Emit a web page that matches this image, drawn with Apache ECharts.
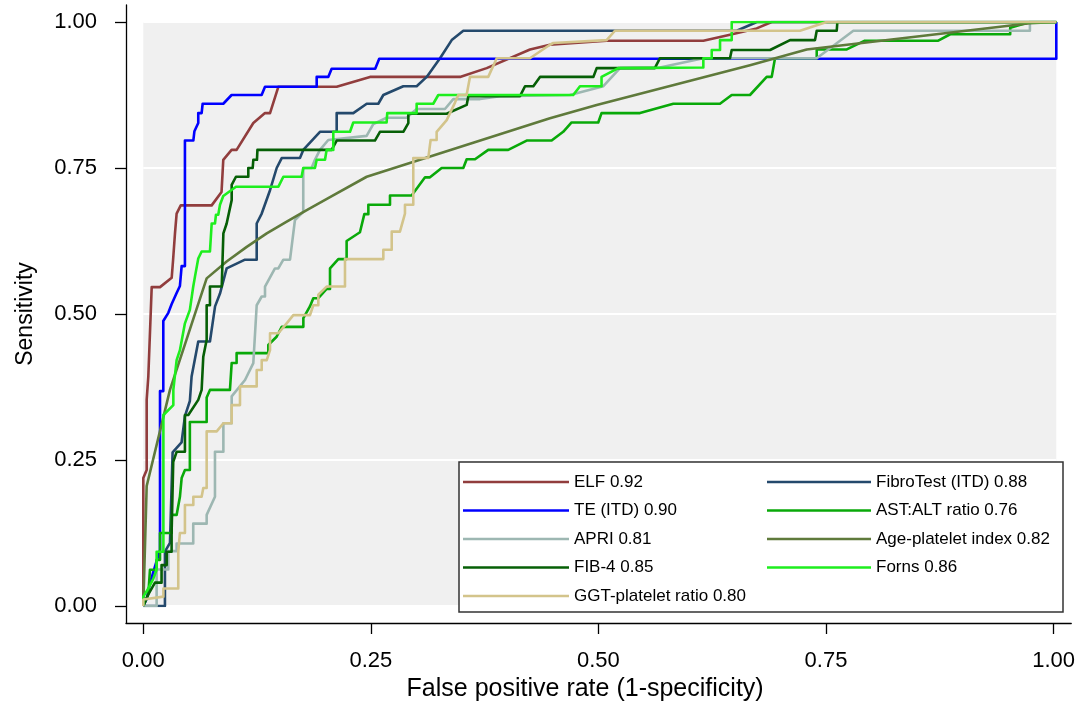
<!DOCTYPE html>
<html>
<head>
<meta charset="utf-8">
<title>ROC curves</title>
<script src="https://cdn.jsdelivr.net/npm/echarts@6/dist/echarts.min.js"></script>
<style>
  html, body { margin: 0; padding: 0; background: #ffffff; }
  #chart { width: 1078px; height: 707px; }
</style>
</head>
<body>
<div id="chart"></div>
<script>
// ROC curves: [false positive rate, sensitivity]
const elf = [[0,0],[0,0.219],[0.0037,0.233],[0.0037,0.353],[0.0055,0.393],[0.0092,0.546],[0.0183,0.546],[0.0311,0.562],[0.0326,0.592],[0.0347,0.638],[0.0365,0.672],[0.041,0.686],[0.0749,0.686],[0.0857,0.709],[0.0876,0.764],[0.0967,0.781],[0.1022,0.781],[0.1205,0.827],[0.1333,0.844],[0.1388,0.844],[0.1479,0.889],[0.2118,0.889],[0.2483,0.906],[0.3469,0.906],[0.3761,0.921],[0.4236,0.953],[0.4454,0.961],[0.5076,0.968],[0.6134,0.968],[0.6426,0.978],[0.6718,0.989],[0.6883,1],[1,1]];

const fibroTest = [[0,0],[0.0237,0],[0.0237,0.093],[0.0292,0.108],[0.0321,0.263],[0.0419,0.280],[0.0456,0.325],[0.051,0.351],[0.0529,0.393],[0.0602,0.453],[0.073,0.453],[0.0786,0.513],[0.084,0.535],[0.0913,0.578],[0.1114,0.593],[0.1242,0.593],[0.1242,0.655],[0.1297,0.672],[0.1388,0.712],[0.1461,0.750],[0.1516,0.767],[0.1716,0.767],[0.1752,0.781],[0.1935,0.812],[0.2118,0.812],[0.2118,0.844],[0.23,0.844],[0.2447,0.860],[0.2574,0.860],[0.2629,0.875],[0.2848,0.890],[0.2994,0.890],[0.3104,0.906],[0.325,0.938],[0.3378,0.969],[0.3505,0.985],[0.65,0.985],[0.672,1],[1,1]];

const te = [[0,0],[0.0037,0.012],[0.0073,0.039],[0.0183,0.096],[0.0183,0.368],[0.0219,0.368],[0.0219,0.488],[0.0274,0.502],[0.0311,0.517],[0.0365,0.536],[0.0401,0.548],[0.042,0.582],[0.0456,0.582],[0.0456,0.797],[0.0548,0.797],[0.056,0.813],[0.0602,0.827],[0.0602,0.844],[0.0639,0.844],[0.065,0.860],[0.0876,0.860],[0.0967,0.875],[0.1296,0.875],[0.1333,0.889],[0.1899,0.889],[0.1899,0.906],[0.2026,0.906],[0.2063,0.920],[0.254,0.920],[0.2584,0.937],[1,0.937],[1,1]];

const astAlt = [[0,0],[0.0055,0.02],[0.0073,0.062],[0.0146,0.062],[0.0146,0.079],[0.0183,0.079],[0.0183,0.125],[0.0311,0.125],[0.0311,0.156],[0.0365,0.156],[0.0401,0.187],[0.042,0.219],[0.0456,0.233],[0.051,0.233],[0.051,0.315],[0.0694,0.315],[0.0694,0.357],[0.073,0.370],[0.0949,0.370],[0.0968,0.416],[0.1022,0.416],[0.1022,0.433],[0.1369,0.433],[0.1369,0.447],[0.146,0.461],[0.1516,0.478],[0.1753,0.478],[0.1753,0.493],[0.1825,0.513],[0.1862,0.527],[0.1917,0.527],[0.2008,0.543],[0.2045,0.543],[0.2045,0.578],[0.2136,0.594],[0.2227,0.594],[0.2227,0.625],[0.2373,0.640],[0.2421,0.671],[0.2465,0.671],[0.2465,0.687],[0.2702,0.687],[0.2702,0.703],[0.2939,0.703],[0.3086,0.734],[0.314,0.734],[0.3268,0.750],[0.3505,0.750],[0.3542,0.765],[0.3633,0.765],[0.3778,0.781],[0.3997,0.781],[0.4199,0.797],[0.4472,0.797],[0.4599,0.812],[0.4691,0.828],[0.4983,0.828],[0.5019,0.844],[0.544,0.844],[0.5805,0.860],[0.6316,0.860],[0.6445,0.875],[0.6645,0.875],[0.6828,0.906],[0.6883,0.906],[0.6919,0.938],[0.7376,0.938],[0.7376,0.953],[0.7705,0.953],[0.7903,0.968],[0.8707,0.968],[0.8838,0.979],[0.9495,0.979],[0.9495,0.990],[0.9711,1],[1,1]];

const apri = [[0,0],[0.0146,0],[0.0146,0.0625],[0.0274,0.0625],[0.0274,0.094],[0.0365,0.094],[0.0365,0.107],[0.0547,0.107],[0.0547,0.141],[0.0694,0.141],[0.0694,0.156],[0.0785,0.187],[0.0785,0.264],[0.0877,0.264],[0.0877,0.313],[0.0968,0.313],[0.0968,0.359],[0.1114,0.387],[0.1205,0.416],[0.1242,0.515],[0.1297,0.530],[0.1333,0.530],[0.1333,0.547],[0.1442,0.578],[0.1479,0.578],[0.1534,0.593],[0.1607,0.593],[0.1661,0.661],[0.1752,0.675],[0.1752,0.750],[0.1843,0.750],[0.188,0.764],[0.1935,0.781],[0.2026,0.798],[0.2446,0.805],[0.2519,0.825],[0.2665,0.836],[0.2884,0.836],[0.2994,0.851],[0.3304,0.851],[0.3395,0.868],[0.3688,0.868],[0.3907,0.873],[0.4673,0.875],[0.5039,0.890],[0.5221,0.921],[0.5659,0.922],[0.6134,0.938],[0.7376,0.938],[0.7777,0.985],[0.9711,0.985],[0.9711,1],[1,1]];

const agePlatelet = [[0,0],[0.0037,0.2055],[0.0292,0.370],[0.0694,0.561],[0.0913,0.590],[0.1133,0.615],[0.1352,0.638],[0.1571,0.658],[0.179,0.678],[0.2045,0.700],[0.2447,0.735],[0.4454,0.835],[0.4966,0.858],[0.6645,0.926],[0.7266,0.953],[0.9711,0.998],[1,1]];

const fib4 = [[0,0],[0.0055,0.02],[0.0128,0.04],[0.02,0.04],[0.02,0.07],[0.0256,0.07],[0.0256,0.093],[0.031,0.093],[0.031,0.125],[0.0328,0.125],[0.0328,0.247],[0.0365,0.264],[0.0456,0.264],[0.0456,0.327],[0.0493,0.327],[0.0602,0.353],[0.0639,0.370],[0.0657,0.427],[0.0694,0.456],[0.0694,0.515],[0.073,0.515],[0.073,0.547],[0.0859,0.547],[0.0877,0.638],[0.0913,0.655],[0.0931,0.655],[0.0968,0.695],[0.0968,0.721],[0.1015,0.735],[0.115,0.735],[0.115,0.750],[0.1198,0.750],[0.1205,0.764],[0.1245,0.764],[0.125,0.781],[0.2063,0.781],[0.2118,0.797],[0.2537,0.797],[0.2592,0.812],[0.2848,0.812],[0.2903,0.827],[0.2903,0.843],[0.3322,0.843],[0.3542,0.858],[0.356,0.873],[0.4126,0.873],[0.4181,0.890],[0.4272,0.890],[0.4345,0.906],[0.493,0.906],[0.4966,0.921],[0.5603,0.921],[0.5659,0.938],[0.6426,0.938],[0.6445,0.952],[0.6865,0.952],[0.7084,0.969],[0.7357,0.969],[0.7376,0.985],[0.7595,0.985],[0.7602,1],[1,1]];

const forns = [[0,0],[0,0.016],[0.0055,0.030],[0.011,0.047],[0.0146,0.062],[0.0146,0.093],[0.022,0.093],[0.022,0.327],[0.0329,0.344],[0.0329,0.370],[0.0365,0.421],[0.0401,0.438],[0.0456,0.484],[0.051,0.507],[0.0547,0.547],[0.0566,0.564],[0.0602,0.595],[0.0639,0.607],[0.073,0.607],[0.0749,0.655],[0.0785,0.655],[0.0796,0.670],[0.0821,0.670],[0.084,0.687],[0.0876,0.702],[0.1015,0.718],[0.148,0.718],[0.1534,0.735],[0.1734,0.735],[0.1752,0.750],[0.188,0.750],[0.1899,0.764],[0.199,0.764],[0.2008,0.781],[0.2081,0.781],[0.2081,0.812],[0.2264,0.812],[0.23,0.828],[0.2665,0.828],[0.2672,0.844],[0.2994,0.844],[0.2994,0.860],[0.3176,0.860],[0.3231,0.875],[0.4709,0.875],[0.4783,0.890],[0.5019,0.890],[0.5019,0.906],[0.5203,0.921],[0.6134,0.922],[0.6134,0.938],[0.6226,0.938],[0.6226,0.952],[0.6317,0.952],[0.6317,0.969],[0.6445,0.969],[0.6445,1],[1,1]];

const ggt = [[0,0],[0,0.011],[0.022,0.016],[0.022,0.030],[0.0383,0.030],[0.0383,0.093],[0.0401,0.125],[0.0456,0.125],[0.0456,0.173],[0.0548,0.173],[0.0548,0.187],[0.0639,0.187],[0.0657,0.202],[0.0694,0.202],[0.0694,0.299],[0.0804,0.299],[0.0877,0.313],[0.0968,0.313],[0.0968,0.344],[0.1059,0.344],[0.1059,0.376],[0.1242,0.376],[0.1242,0.404],[0.1297,0.404],[0.1297,0.421],[0.1352,0.421],[0.1388,0.438],[0.1388,0.467],[0.1479,0.467],[0.157,0.484],[0.1643,0.498],[0.1826,0.498],[0.1862,0.515],[0.1917,0.515],[0.1917,0.533],[0.2008,0.547],[0.2209,0.547],[0.2209,0.594],[0.2629,0.594],[0.2629,0.610],[0.2721,0.610],[0.2721,0.641],[0.2811,0.641],[0.2866,0.672],[0.2866,0.687],[0.2957,0.687],[0.2957,0.767],[0.3121,0.767],[0.3147,0.798],[0.3213,0.798],[0.3213,0.812],[0.3323,0.832],[0.3414,0.862],[0.345,0.875],[0.3541,0.875],[0.3578,0.906],[0.3778,0.906],[0.3871,0.938],[0.4235,0.938],[0.4454,0.961],[0.4491,0.964],[0.5075,0.969],[0.5166,0.985],[0.7193,0.985],[0.7485,1],[1,1]];

// Legend labels with AUC
const names = {
  elf: 'ELF 0.92',
  fibroTest: 'FibroTest (ITD) 0.88',
  te: 'TE (ITD) 0.90',
  astAlt: 'AST:ALT ratio 0.76',
  apri: 'APRI 0.81',
  agePlatelet: 'Age-platelet index 0.82',
  fib4: 'FIB-4 0.85',
  forns: 'Forns 0.86',
  ggt: 'GGT-platelet ratio 0.80'
};

const tickValues = [0, 0.25, 0.5, 0.75, 1];

const colors = {
  elf: '#913d3d',
  fibroTest: '#24496c',
  te: '#0000ff',
  astAlt: '#09a909',
  apri: '#9db7b2',
  agePlatelet: '#5f7a3b',
  fib4: '#065f06',
  forns: '#1eee1e',
  ggt: '#d3c48b'
};

// drawing order: later curves lie on top
const order = [
  ['elf', elf], ['fibroTest', fibroTest], ['te', te], ['astAlt', astAlt],
  ['apri', apri], ['agePlatelet', agePlatelet], ['fib4', fib4], ['forns', forns], ['ggt', ggt]
];

const FONT = "'Liberation Sans', Arial, Helvetica, sans-serif";

// plot region (data 0..1) and the outer frame carrying the axes
const plot = { left: 143.3, right: 1056.3, top: 22, bottom: 606 };
const frame = { left: 126, right: 1074, top: 5, bottom: 623 };
const pxPerX = plot.right - plot.left, pxPerY = plot.bottom - plot.top;
const fxMin = (frame.left - plot.left) / pxPerX;
const fxMax = (frame.right - plot.left) / pxPerX;
const fyMin = (plot.bottom - frame.bottom) / pxPerY;
const fyMax = (plot.bottom - frame.top) / pxPerY;

const chart = echarts.init(document.getElementById('chart'), null, { renderer: 'canvas' });

const series = order.map(([key, data]) => ({
  name: names[key],
  type: 'line',
  xAxisIndex: 0,
  yAxisIndex: 0,
  data: data,
  symbol: 'none',
  showSymbol: false,
  smooth: false,
  lineStyle: { color: colors[key], width: 2.6, join: 'round' },
  itemStyle: { color: colors[key] },
  emphasis: { disabled: true },
  z: 2
}));

const legendCommon = {
  orient: 'vertical',
  top: 473,
  padding: 0,
  itemGap: 10.5,
  itemHeight: 2.5,
  icon: 'rect',
  selectedMode: false,
  textStyle: { fontFamily: FONT, fontSize: 17, color: '#000', lineHeight: 18 },
  z: 10
};

chart.setOption({
  animation: false,
  backgroundColor: '#ffffff',
  grid: [
    {
      left: plot.left, top: plot.top, width: pxPerX, height: pxPerY,
      show: true, backgroundColor: '#f0f0f0', borderWidth: 0
    },
    {
      left: frame.left, top: frame.top,
      width: frame.right - frame.left, height: frame.bottom - frame.top,
      show: false
    }
  ],
  xAxis: [
    {
      type: 'value', gridIndex: 0, min: 0, max: 1, interval: 0.25,
      axisLine: { show: false }, axisTick: { show: false }, axisLabel: { show: false },
      splitLine: { show: false }
    },
    {
      type: 'value', gridIndex: 1, min: fxMin, max: fxMax,
      axisLine: { show: true, onZero: false, lineStyle: { color: '#000', width: 1.3 } },
      axisTick: { show: true, length: 11, customValues: tickValues, lineStyle: { color: '#000', width: 1.3 } },
      axisLabel: {
        show: true, customValues: tickValues, margin: 27,
        formatter: v => v.toFixed(2),
        fontFamily: FONT, fontSize: 22, color: '#000'
      },
      splitLine: { show: false },
      name: 'False positive rate (1-specificity)',
      nameLocation: 'middle', nameGap: 54,
      nameTextStyle: { fontFamily: FONT, fontSize: 25, color: '#000', padding: [0, 27, 0, 0] }
    }
  ],
  yAxis: [
    {
      type: 'value', gridIndex: 0, min: 0, max: 1, interval: 0.25,
      axisLine: { show: false }, axisTick: { show: false }, axisLabel: { show: false },
      splitLine: { show: true, lineStyle: { color: '#ffffff', width: 2 } }
    },
    {
      type: 'value', gridIndex: 1, min: fyMin, max: fyMax,
      axisLine: { show: true, onZero: false, lineStyle: { color: '#000', width: 1.3 } },
      axisTick: { show: true, length: 11, customValues: tickValues, lineStyle: { color: '#000', width: 1.3 } },
      axisLabel: {
        show: true, customValues: tickValues, margin: 29,
        formatter: v => v.toFixed(2),
        fontFamily: FONT, fontSize: 22, color: '#000'
      },
      splitLine: { show: false },
      name: 'Sensitivity',
      nameLocation: 'middle', nameGap: 89,
      nameTextStyle: { fontFamily: FONT, fontSize: 23, color: '#000' }
    }
  ],
  legend: [
    Object.assign({}, legendCommon, {
      left: 463, itemWidth: 106,
      data: [names.elf, names.te, names.apri, names.fib4, names.ggt]
    }),
    Object.assign({}, legendCommon, {
      left: 767, itemWidth: 104,
      data: [names.fibroTest, names.astAlt, names.agePlatelet, names.forns]
    })
  ],
  graphic: [
    {
      type: 'rect', z: 5, silent: true,
      shape: { x: 459, y: 462, width: 604, height: 150 },
      style: { fill: '#ffffff', stroke: '#333333', lineWidth: 1.5 }
    }
  ],
  series: series
});
</script>
</body>
</html>
